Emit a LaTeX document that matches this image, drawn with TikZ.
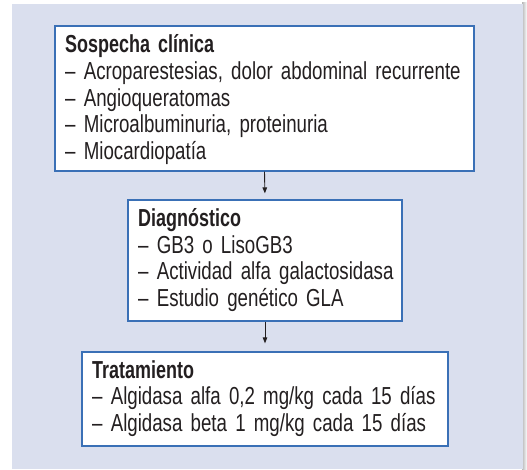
\documentclass[tikz,border=0pt]{standalone}
\usepackage{fontspec}
\setmainfont{Liberation Sans}[FakeStretch=0.76, WordSpace=0.75, BoldFeatures={FakeStretch=0.73}]
\usetikzlibrary{arrows.meta}
\definecolor{bgpanel}{RGB}{218,223,238}
\definecolor{boxline}{RGB}{58,112,182}
\definecolor{ink}{RGB}{35,31,32}
\begin{document}
\begin{tikzpicture}[x=1pt,y=1pt,
  stepbox/.style={draw=boxline, line width=1.2pt, fill=white, inner sep=0pt},
  boxtext/.style={anchor=base west, inner sep=0pt, align=left, text=ink,
    font=\fontsize{24.6}{26.6}\selectfont},
  flow/.style={-{Triangle[length=6pt,width=4.5pt]}, line width=0.9pt, draw=ink}]
\useasboundingbox (0,0) rectangle (527,469);
\fill[white] (0,0) rectangle (527,469);
\shade[left color=black!28, right color=white] (522,0) rectangle (527,466);
\fill[bgpanel] (12,0) rectangle (523,465);
\node[stepbox, minimum width=419pt, minimum height=145pt] (b1) at (264.5,370.5) {};
\node[stepbox, minimum width=274pt, minimum height=121pt] (b2) at (265,208.5) {};
\node[stepbox, minimum width=366pt, minimum height=94pt] (b3) at (265,70) {};
\node[boxtext, text width=405pt] (t1) at (65,416) {\textbf{Sospecha clínica}\\
– Acroparestesias, dolor abdominal recurrente\\
– Angioqueratomas\\
– Microalbuminuria, proteinuria\\
– Miocardiopatía};
\node[boxtext, text width=262pt] (t2) at (138,242.3) {\textbf{Diagnóstico}\\
– GB3 o LisoGB3\\
– Actividad alfa galactosidasa\\
– Estudio genético GLA};
\node[boxtext, text width=356pt] (t3) at (92,91) {\textbf{Tratamiento}\\
– Algidasa alfa 0,2 mg/kg cada 15 días\\
– Algidasa beta 1 mg/kg cada 15 días};
\draw[flow, shorten >=6pt] (b1.south) -- (b2.north);
\draw[flow, shorten >=8pt] (b2.south) -- (b3.north);
\end{tikzpicture}
\end{document}
